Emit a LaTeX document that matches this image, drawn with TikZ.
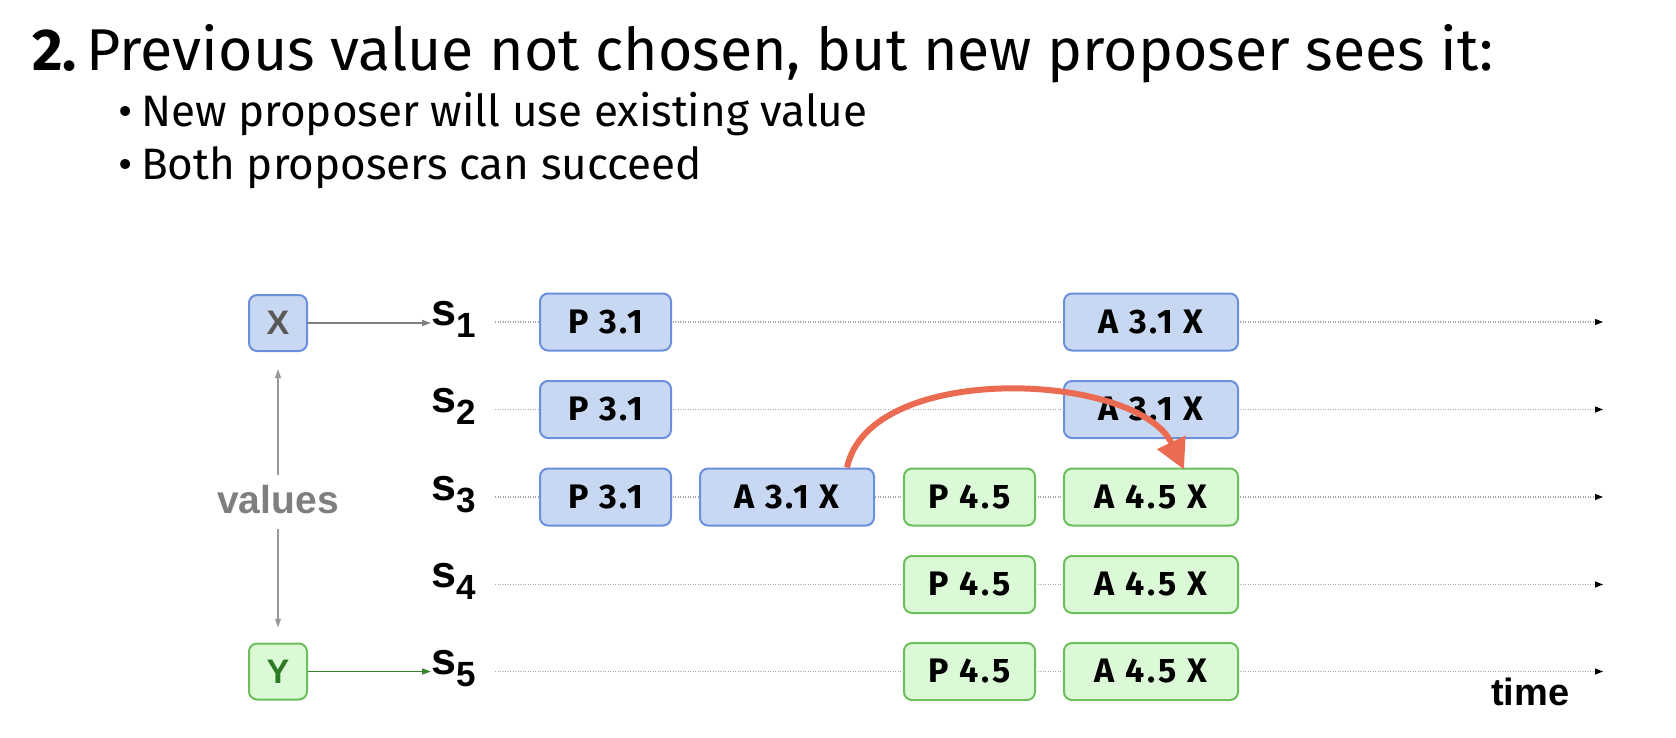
\documentclass[tikz,border=0pt]{standalone}
\usepackage{fontspec}
\setmainfont{Fira Sans}
\newfontfamily\labelfont{Liberation Sans}
\newfontfamily\boxfont[LetterSpace=8]{Fira Sans}
\usetikzlibrary{arrows.meta}

\definecolor{bluefill}{HTML}{C9D8F2}
\definecolor{blueline}{HTML}{6A8FDC}
\definecolor{greenfill}{HTML}{DCF9D7}
\definecolor{greenline}{HTML}{6CC05C}
\definecolor{darkgreen}{HTML}{2E7A24}
\definecolor{valgray}{HTML}{7F7F7F}
\definecolor{xgray}{HTML}{595959}
\definecolor{dotgray}{HTML}{A6A6A6}
\definecolor{arrowred}{HTML}{EA6B52}

\tikzset{
  msgbox/.style={rounded corners=8pt, line width=2pt, inner sep=0pt,
    minimum width=131pt, minimum height=57pt,
    font=\boxfont\fontsize{34}{40}\selectfont\bfseries},
  widebox/.style={minimum width=174pt},
  bluebox/.style={fill=bluefill, draw=blueline},
  greenbox/.style={fill=greenfill, draw=greenline},
  valbox/.style={rounded corners=8pt, line width=2pt, inner sep=0pt,
    minimum width=58pt, minimum height=56pt,
    font=\labelfont\fontsize{34}{40}\selectfont\bfseries},
  srvlabel/.style={anchor=base west, inner sep=0pt,
    font=\labelfont\fontsize{45}{45}\selectfont\bfseries},
  timeline/.style={draw=dotgray, line width=1.3pt, dash pattern=on 1.3pt off 1.2pt,
    -{Triangle[length=8pt,width=6pt,color=black,fill=black]}},
  feed/.style={line width=1.6pt, -{Triangle[length=9pt,width=6pt]}},
}

\newcommand{\srv}[1]{s\raisebox{-12pt}{\fontsize{35}{35}\selectfont #1}}
\newcommand{\bulletitem}[1]{\makebox[23pt][l]{\textbullet}#1}

\begin{document}
\begin{tikzpicture}[x=1pt,y=-1pt]
\useasboundingbox (0,0) rectangle (1676,738);

% heading and bullets
\node[anchor=base west, inner sep=0pt, font=\fontsize{59}{70}\selectfont] (title) at (32,71)
  {\textbf{2.}\hspace{10pt}Previous value not chosen, but new proposer sees it:};
\node[anchor=base west, inner sep=0pt, font=\fontsize{44}{52}\selectfont] (b1) at (118,127)
  {\bulletitem{New proposer will use existing value}};
\node[anchor=base west, inner sep=0pt, font=\fontsize{44}{52}\selectfont] (b2) at (118,180)
  {\bulletitem{Both proposers can succeed}};

% time lines, one per server
\foreach \i/\y in {1/322, 2/409.5, 3/497, 4/584.5, 5/671.5} {
  \coordinate (ts\i) at (495,\y);
  \coordinate (te\i) at (1603,\y);
  \draw[timeline] (ts\i) -- (te\i);
}

% server labels
\node[srvlabel] (s1) at (431,325) {\srv{1}};
\node[srvlabel] (s2) at (431,412.5) {\srv{2}};
\node[srvlabel] (s3) at (431,500) {\srv{3}};
\node[srvlabel] (s4) at (431,587.5) {\srv{4}};
\node[srvlabel] (s5) at (431,674.5) {\srv{5}};

% client values
\node[valbox, bluebox, text=xgray] (X) at (278,323) {X};
\node[valbox, greenbox, text=darkgreen] (Y) at (278,671.5) {Y};
\node[inner sep=0pt, text=valgray, font=\labelfont\fontsize{39}{39}\selectfont\bfseries] (values) at (278,500) {values};

\draw[feed, draw=valgray] (X.east) -- (X.east -| s1.west);
\draw[feed, draw=darkgreen!85!greenline] (Y.east) -- (Y.east -| s5.west);
\draw[feed, draw=valgray!80, line width=1.3pt, shorten <=10pt, shorten >=17pt] (values.north) -- (X.south);
\draw[feed, draw=valgray!80, line width=1.3pt, shorten <=14pt, shorten >=15pt] (values.south) -- (Y.north);

% messages
\node[msgbox, bluebox] (p1) at (605.5,322) {P 3.1};
\node[msgbox, bluebox] (p2) at (605.5,409.5) {P 3.1};
\node[msgbox, bluebox] (p3) at (605.5,497) {P 3.1};
\node[msgbox, widebox, bluebox] (a3old) at (787,497) {A 3.1 X};
\node[msgbox, greenbox] (q3) at (969.5,497) {P 4.5};
\node[msgbox, greenbox] (q4) at (969.5,584.5) {P 4.5};
\node[msgbox, greenbox] (q5) at (969.5,671.5) {P 4.5};
\node[msgbox, widebox, bluebox] (a1) at (1151,322) {A 3.1 X};
\node[msgbox, widebox, bluebox] (a2) at (1151,409.5) {A 3.1 X};
\node[msgbox, widebox, greenbox] (a3) at (1151,497) {A 4.5 X};
\node[msgbox, widebox, greenbox] (a4) at (1151,584.5) {A 4.5 X};
\node[msgbox, widebox, greenbox] (a5) at (1151,671.5) {A 4.5 X};

% the accepted value carried over to the new proposal
\draw[draw=arrowred, line width=6pt, -{Triangle[length=30pt,width=30pt]}]
  ([xshift=60pt]a3old.north) .. controls (870,360) and (1138,372) .. ([xshift=33pt,yshift=-2pt]a3.north);

\node[anchor=base west, inner sep=0pt, font=\labelfont\fontsize{38}{38}\selectfont\bfseries] (time) at (1491,705) {time};
\end{tikzpicture}
\end{document}
